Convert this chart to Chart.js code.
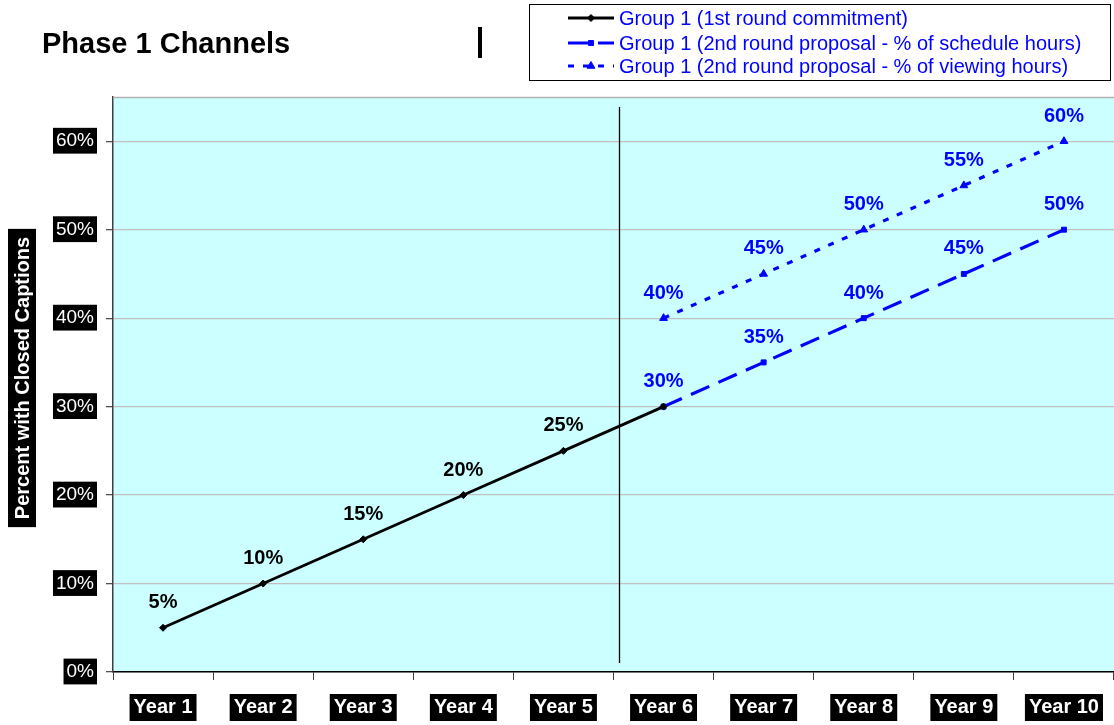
<!DOCTYPE html>
<html>
<head>
<meta charset="utf-8">
<title>Phase 1 Channels</title>
<script src="https://cdn.jsdelivr.net/npm/chart.js@4"></script>
<style>
  html, body { margin: 0; padding: 0; background: #fff; overflow: hidden; }
  #wrap { width: 1114px; height: 725px; position: relative; }
</style>
</head>
<body>
<div id="wrap"><canvas id="chart"></canvas></div>
<script>
// Categories and series (percent with closed captions)
const years = ['Year 1', 'Year 2', 'Year 3', 'Year 4', 'Year 5',
               'Year 6', 'Year 7', 'Year 8', 'Year 9', 'Year 10'];
const firstRound = [5, 10, 15, 20, 25, 30, null, null, null, null];
const scheduleHours = [null, null, null, null, null, 30, 35, 40, 45, 50];
const viewingHours = [null, null, null, null, null, 40, 45, 50, 55, 60];
const yTicks = [0, 10, 20, 30, 40, 50, 60];

const seriesNames = [
  'Group 1 (1st round commitment)',
  'Group 1 (2nd round proposal - % of schedule hours)',
  'Group 1 (2nd round proposal - % of viewing hours)'
];

const FONT = "Arial, 'Liberation Sans', sans-serif";
const BLUE = '#0000FF';

// Background, frame, title, legend, axis title and the phase divider
const decorations = {
  id: 'decorations',
  beforeDraw(chart) {
    const { ctx, chartArea: a } = chart;
    ctx.save();
    ctx.fillStyle = '#CCFFFF';
    ctx.fillRect(a.left, a.top, a.right - a.left, a.bottom - a.top);
    ctx.restore();
  },
  afterDraw(chart) {
    const { ctx, chartArea: a } = chart;
    const x = chart.scales.x;
    ctx.save();

    // top frame line
    ctx.strokeStyle = '#b0b0b0';
    ctx.lineWidth = 1.5;
    ctx.beginPath();
    ctx.moveTo(a.left, a.top + 0.5);
    ctx.lineTo(a.right, a.top + 0.5);
    ctx.stroke();

    // divider between Year 5 and Year 6
    const dx = Math.round(x.getPixelForValue(4.5)) + 5.5;
    ctx.strokeStyle = '#000';
    ctx.lineWidth = 1.3;
    ctx.beginPath();
    ctx.moveTo(dx, a.top + 10);
    ctx.lineTo(dx, a.bottom - 9);
    ctx.stroke();

    // chart title
    ctx.fillStyle = '#000';
    ctx.font = 'bold 29px ' + FONT;
    ctx.textBaseline = 'middle';
    ctx.textAlign = 'left';
    ctx.fillText('Phase 1 Channels', 42, 45);

    // small bar next to the title
    ctx.fillRect(478, 27, 4, 31);

    // y axis title on a black band
    ctx.translate(22, 378);
    ctx.rotate(-Math.PI / 2);
    ctx.font = 'bold 20px ' + FONT;
    const t = 'Percent with Closed Captions';
    const tw = ctx.measureText(t).width;
    ctx.fillStyle = '#000';
    ctx.fillRect(-tw / 2 - 8, -14, tw + 16, 28);
    ctx.fillStyle = '#fff';
    ctx.textAlign = 'center';
    ctx.fillText(t, 0, 1);
    ctx.setTransform(1, 0, 0, 1, 0, 0);

    // legend box
    ctx.fillStyle = '#fff';
    ctx.fillRect(529, 4, 581, 76);
    ctx.strokeStyle = '#000';
    ctx.lineWidth = 1;
    ctx.strokeRect(529.5, 4.5, 581, 76);

    const rows = [18, 43, 66];
    chart.data.datasets.forEach((ds, i) => {
      const y = rows[i];
      ctx.save();
      ctx.strokeStyle = ds.borderColor;
      ctx.lineWidth = ds.borderWidth;
      ctx.setLineDash(ds.borderDash || []);
      ctx.beginPath();
      ctx.moveTo(568, y);
      ctx.lineTo(614, y);
      ctx.stroke();
      ctx.restore();
      ctx.fillStyle = ds.backgroundColor;
      ctx.strokeStyle = ds.borderColor;
      Chart.helpers.drawPoint(ctx, {
        pointStyle: ds.pointStyle,
        radius: ds.pointRadius,
        rotation: 0,
        borderWidth: 1
      }, 591, y);
      ctx.fillStyle = BLUE;
      ctx.font = '20px ' + FONT;
      ctx.textAlign = 'left';
      ctx.textBaseline = 'middle';
      ctx.fillText(ds.label, 619, y + 1);
    });

    ctx.restore();
  }
};

// Value labels above the points
const valueLabels = {
  id: 'valueLabels',
  afterDatasetsDraw(chart) {
    const { ctx } = chart;
    ctx.save();
    ctx.font = 'bold 20px ' + FONT;
    ctx.textAlign = 'center';
    ctx.textBaseline = 'middle';
    chart.data.datasets.forEach((ds, i) => {
      const meta = chart.getDatasetMeta(i);
      ds.data.forEach((v, j) => {
        if (v === null || !ds.showLabel[j]) return;
        const p = meta.data[j];
        ctx.fillStyle = ds.labelColor;
        ctx.fillText(v + '%', p.x, p.y - 25);
      });
    });
    ctx.restore();
  }
};

new Chart(document.getElementById('chart'), {
  type: 'line',
  data: {
    labels: years,
    datasets: [
      {
        label: seriesNames[0],
        data: firstRound,
        borderColor: '#000',
        backgroundColor: '#000',
        borderWidth: 2.8,
        pointStyle: 'rectRot',
        pointRadius: 3.5,
        pointBorderWidth: 1,
        labelColor: '#000',
        showLabel: firstRound.map((v, j) => scheduleHours[j] === null)
      },
      {
        label: seriesNames[1],
        data: scheduleHours,
        borderColor: BLUE,
        backgroundColor: BLUE,
        borderWidth: 3.2,
        borderDash: [20, 10],
        pointStyle: 'rect',
        pointRadius: 3.5,
        pointBorderWidth: 1,
        labelColor: BLUE,
        showLabel: scheduleHours.map(() => true)
      },
      {
        label: seriesNames[2],
        data: viewingHours,
        borderColor: BLUE,
        backgroundColor: BLUE,
        borderWidth: 3.2,
        borderDash: [6, 9],
        pointStyle: 'triangle',
        pointRadius: 4.5,
        pointBorderWidth: 1,
        labelColor: BLUE,
        showLabel: viewingHours.map(() => true)
      }
    ]
  },
  options: {
    responsive: true,
    maintainAspectRatio: false,
    animation: false,
    spanGaps: false,
    layout: { autoPadding: false, padding: { top: 97, left: 0, right: 0, bottom: 0 } },
    plugins: {
      legend: { display: false },
      tooltip: { enabled: false },
      title: { display: false }
    },
    scales: {
      x: {
        type: 'category',
        offset: true,
        grid: {
          offset: true,
          drawOnChartArea: false,
          tickLength: 8,
          tickColor: '#404040',
          tickWidth: 1
        },
        border: { color: '#000', width: 1.5 },
        ticks: {
          color: '#fff',
          font: { family: FONT, size: 20, weight: 'bold' },
          padding: 15,
          maxRotation: 0,
          autoSkip: false,
          showLabelBackdrop: true,
          backdropColor: '#000',
          backdropPadding: { left: 4, right: 4, top: 1, bottom: 2 }
        },
        afterFit(scale) {
          scale.height = 53;
          scale.paddingLeft = 0;
          scale.paddingRight = 0;
        }
      },
      y: {
        type: 'linear',
        min: 0,
        max: 65,
        afterBuildTicks(scale) {
          scale.ticks = yTicks.map(v => ({ value: v }));
        },
        grid: {
          color: '#c0c0c0',
          lineWidth: 1.3,
          tickLength: 7,
          tickColor: '#505050',
          drawTicks: true
        },
        border: { color: '#404040', width: 1.5 },
        ticks: {
          color: '#fff',
          font: { family: FONT, size: 19 },
          padding: 12,
          callback: v => v + '%',
          showLabelBackdrop: true,
          backdropColor: '#000',
          backdropPadding: { left: 3, right: 3, top: 2, bottom: 1 }
        },
        afterFit(scale) { scale.width = 113; }
      }
    }
  },
  plugins: [decorations, valueLabels]
});
</script>
</body>
</html>
